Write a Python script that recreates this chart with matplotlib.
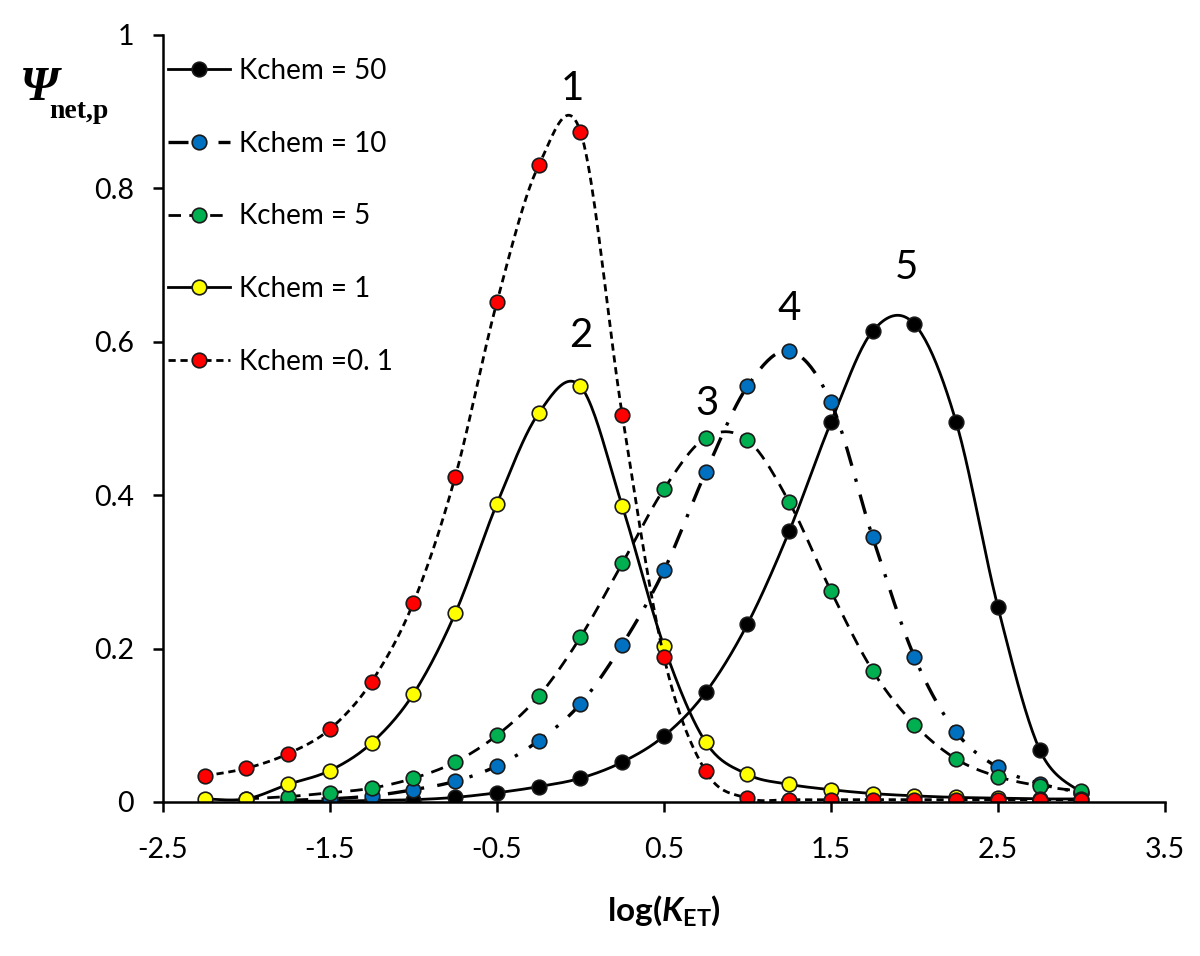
import numpy as np
import matplotlib
matplotlib.use("Agg")
import matplotlib.pyplot as plt
from matplotlib.lines import Line2D

plt.rcParams["font.family"] = ["Lato", "DejaVu Sans"]
plt.rcParams["mathtext.fontset"] = "custom"
plt.rcParams["mathtext.bf"] = "Lato:bold"
plt.rcParams["mathtext.it"] = "Lato:bold:italic"

# log(K_ET) grid points for each series
x_50 = [-1.75, -1.5, -1.25, -1.0, -0.75, -0.5, -0.25, 0.0, 0.25, 0.5,
        0.75, 1.0, 1.25, 1.5, 1.75, 2.0, 2.25, 2.5, 2.75, 3.0]
y_50 = [0.001, 0.001, 0.002, 0.003, 0.006, 0.012, 0.020, 0.031, 0.052, 0.086,
        0.143, 0.232, 0.353, 0.495, 0.614, 0.623, 0.495, 0.254, 0.068, 0.012]

x_10 = [-1.75, -1.5, -1.25, -1.0, -0.75, -0.5, -0.25, 0.0, 0.25, 0.5,
        0.75, 1.0, 1.25, 1.5, 1.75, 2.0, 2.25, 2.5, 2.75, 3.0]
y_10 = [0.002, 0.004, 0.008, 0.016, 0.027, 0.047, 0.080, 0.128, 0.205, 0.302,
        0.430, 0.542, 0.588, 0.521, 0.345, 0.189, 0.091, 0.045, 0.024, 0.012]

x_5 = [-2.0, -1.75, -1.5, -1.25, -1.0, -0.75, -0.5, -0.25, 0.0, 0.25, 0.5,
       0.75, 1.0, 1.25, 1.5, 1.75, 2.0, 2.25, 2.5, 2.75, 3.0]
y_5 = [0.004, 0.007, 0.012, 0.018, 0.031, 0.052, 0.087, 0.138, 0.215, 0.311, 0.408,
       0.475, 0.472, 0.391, 0.275, 0.171, 0.101, 0.056, 0.033, 0.021, 0.014]

x_1 = [-2.25, -2.0, -1.75, -1.5, -1.25, -1.0, -0.75, -0.5, -0.25, 0.0, 0.25,
       0.5, 0.75, 1.0, 1.25, 1.5, 1.75, 2.0, 2.25, 2.5, 2.75, 3.0]
y_1 = [0.004, 0.004, 0.023, 0.041, 0.077, 0.141, 0.246, 0.389, 0.507, 0.542, 0.386,
       0.203, 0.078, 0.036, 0.023, 0.016, 0.011, 0.008, 0.006, 0.005, 0.004, 0.004]

x_01 = [-2.25, -2.0, -1.75, -1.5, -1.25, -1.0, -0.75, -0.5, -0.25, 0.0, 0.25,
        0.5, 0.75, 1.0, 1.25, 1.5, 1.75, 2.0, 2.25, 2.5, 2.75, 3.0]
y_01 = [0.034, 0.044, 0.063, 0.095, 0.157, 0.260, 0.424, 0.652, 0.830, 0.874, 0.505,
        0.189, 0.040, 0.005, 0.003, 0.003, 0.003, 0.003, 0.003, 0.003, 0.003, 0.003]

labels = ["Kchem = 50", "Kchem = 10", "Kchem = 5", "Kchem = 1", "Kchem =0. 1"]
face_colors = ["#000000", "#0070C0", "#00B050", "#FFFF00", "#FF0000"]

# curve numbers and where they sit
curve_ids = ["1", "2", "3", "4", "5"]
id_x = [-0.05, 0.0, 0.76, 1.25, 1.955]
id_y = [0.93, 0.608, 0.519, 0.643, 0.697]


def smooth(xs, ys, n=24):
    """Catmull-Rom style smoothing like Excel's smoothed line."""
    p = np.column_stack([xs, ys]).astype(float)
    p = np.vstack([p[0], p, p[-1]])
    out = []
    t = np.linspace(0, 1, n)[:, None]
    for i in range(1, len(p) - 2):
        p0, p1, p2, p3 = p[i - 1], p[i], p[i + 1], p[i + 2]
        c1 = p1 + (p2 - p0) / 6.0
        c2 = p2 - (p3 - p1) / 6.0
        seg = ((1 - t) ** 3) * p1 + 3 * ((1 - t) ** 2) * t * c1 \
            + 3 * (1 - t) * t ** 2 * c2 + t ** 3 * p2
        out.append(seg if i == 1 else seg[1:])
    out = np.vstack(out)
    return out[:, 0], out[:, 1]


fig = plt.figure(figsize=(12, 9.56), dpi=100)
ax = fig.add_axes([0.1358, 0.1611, 0.835, 0.8023])

series = [
    (x_50, y_50, dict(linestyle="-"), 2.0),
    (x_10, y_10, dict(dashes=(6, 4, 1.0, 4)), 2.4),
    (x_5, y_5, dict(dashes=(4.5, 3)), 2.0),
    (x_1, y_1, dict(linestyle="-"), 2.0),
    (x_01, y_01, dict(dashes=(2.6, 1.7)), 2.0),
]

handles = []
for (xs, ys, ls, lw), fc, lab in zip(series, face_colors, labels):
    sx, sy = smooth(xs, ys)
    ax.plot(sx, sy, color="black", lw=lw, **ls)
    ax.plot(xs, ys, linestyle="none", marker="o", ms=10.5,
            mfc=fc, mec="#1a1a1a", mew=1.2)
    handles.append(Line2D([], [], color="black", lw=lw, marker="o", ms=10.5,
                          mfc=fc, mec="#1a1a1a", mew=1.2, **ls))

for t, tx, ty in zip(curve_ids, id_x, id_y):
    ax.text(tx, ty, t, fontsize=29, ha="center", va="center")

ax.set_xlim(-2.5, 3.5)
ax.set_ylim(0, 1)
ax.set_xticks([-2.5, -1.5, -0.5, 0.5, 1.5, 2.5, 3.5])
ax.set_xticklabels(["-2.5", "-1.5", "-0.5", "0.5", "1.5", "2.5", "3.5"])
ax.set_yticks([0, 0.2, 0.4, 0.6, 0.8, 1.0])
ax.set_yticklabels(["0", "0.2", "0.4", "0.6", "0.8", "1"])
for s in ["top", "right"]:
    ax.spines[s].set_visible(False)
for s in ["left", "bottom"]:
    ax.spines[s].set_linewidth(1.8)
ax.tick_params(axis="both", direction="out", length=7, width=1.8,
               labelsize=20.5)
ax.tick_params(axis="x", pad=18)
ax.tick_params(axis="y", pad=14)

ax.legend(handles, labels, loc="upper left", frameon=False,
          bbox_to_anchor=(0.005, 0.97), borderaxespad=0, borderpad=0,
          fontsize=20, handlelength=2.25, handletextpad=0.3,
          labelspacing=1.68)

ax.set_xlabel(r"$\mathbf{log(}\mathit{K}_{\mathbf{ET}}\mathbf{)}$",
              fontsize=24, labelpad=22)

fig.text(20 / 1200, 1 - 100 / 956, "Ψ", fontsize=35, fontweight="bold",
         fontstyle="italic", family=["Liberation Serif"], va="baseline")
fig.text(49 / 1200, 1 - 118 / 956, "net,p", fontsize=20, fontweight="bold",
         family=["Liberation Serif"], va="baseline")

fig.savefig("out.png", dpi=100)
